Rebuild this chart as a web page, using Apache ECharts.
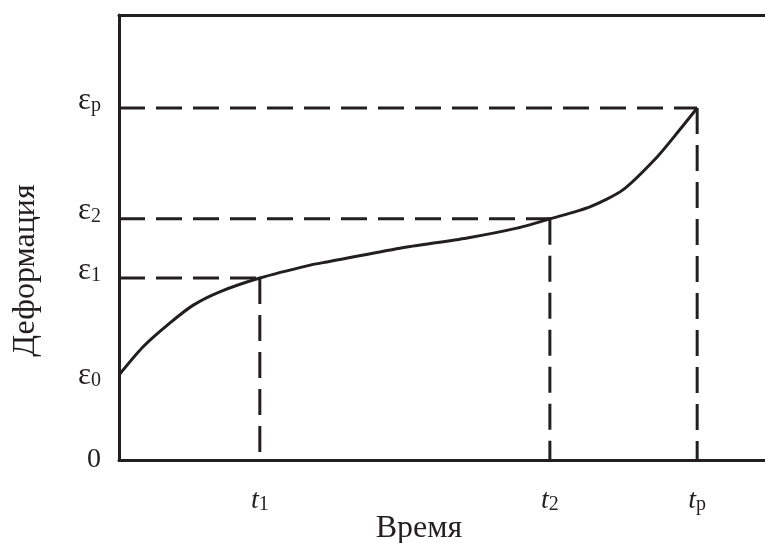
<!DOCTYPE html>
<html>
<head>
<meta charset="utf-8">
<script src="https://cdn.jsdelivr.net/npm/echarts@6/dist/echarts.min.js"></script>
<style>
  html, body { margin: 0; padding: 0; background: #ffffff; }
  #chart { width: 765px; height: 543px; }
</style>
</head>
<body>
<div id="chart"></div>
<script>
// Creep curve: strain against time, with the characteristic points marked
const timeMarks = [21.8, 66.7, 89.5];            // t1, t2, tp
const timeSubs = ['1', '2', 'p'];
const strainMarks = [0, 19.1, 40.9, 54.2, 79.1];  // 0, ε0, ε1, ε2, εp
const strainSubs = ['', '0', '1', '2', 'p'];
const guideStrain = [40.9, 54.2, 79.1];          // ε1, ε2, εp paired with t1, t2, tp

const curveTime   = [0, 3.7, 7.9, 11.5, 15.6, 21.8, 29.6, 32.2, 43.5, 53.9, 61.6, 66.7, 72.9, 78.0, 83.3, 86.8, 89.5];
const curveStrain = [19.1, 25.4, 30.8, 34.8, 37.8, 40.9, 43.8, 44.5, 47.6, 49.9, 52.1, 54.2, 56.9, 60.7, 68.1, 74.2, 79.1];

const INK = '#231f20';
const SERIF = '"Liberation Serif", "DejaVu Serif", serif';

const chart = echarts.init(document.getElementById('chart'), null, { renderer: 'canvas' });

const series = [{
  type: 'line',
  data: curveTime.map((t, i) => [t, curveStrain[i]]),
  smooth: 0.25,
  showSymbol: false,
  lineStyle: { color: INK, width: 3 },
  z: 3
}];

// dashed guides: horizontal from the strain axis, vertical down to the time axis
timeMarks.forEach((t, i) => {
  const e = guideStrain[i];
  const dash = { color: INK, width: 3, type: [26, 11] };
  series.push({ type: 'line', data: [[0, e], [t, e]], showSymbol: false, lineStyle: dash, z: 2 });
  series.push({ type: 'line', data: [[t, e], [t, 0]], showSymbol: false, lineStyle: dash, z: 2 });
});

const yLabelKey = v => strainMarks.indexOf(v);

const big = { fontFamily: SERIF, fontSize: 28, color: INK, verticalAlign: 'bottom', lineHeight: 30 };
const eps = { fontFamily: SERIF, fontSize: 31, color: INK, verticalAlign: 'bottom', lineHeight: 32 };
const sub = { fontFamily: SERIF, fontSize: 20, color: INK, verticalAlign: 'bottom', lineHeight: 14 };

chart.setOption({
  animation: false,
  backgroundColor: '#ffffff',
  grid: { left: 119, right: 0, top: 15, bottom: 83, containLabel: false, outerBoundsMode: 'none' },
  xAxis: [{
    type: 'value', min: 0, max: 100,
    name: 'Время', nameLocation: 'middle', nameGap: 53, nameMoveOverlap: false,
    nameTextStyle: { fontFamily: SERIF, fontSize: 32, color: INK, padding: [0, 46, 0, 0] },
    axisLine: { lineStyle: { color: INK, width: 3 } },
    axisTick: { show: false },
    splitLine: { show: false },
    axisLabel: {
      customValues: timeMarks,
      margin: 25,
      formatter: v => '{t|t}{s|' + timeSubs[timeMarks.indexOf(v)] + '}',
      rich: {
        t: Object.assign({}, big, { fontStyle: 'italic' }),
        s: sub
      }
    }
  }, {
    type: 'value', min: 0, max: 100, position: 'top',
    axisLine: { lineStyle: { color: INK, width: 3 } },
    axisTick: { show: false }, axisLabel: { show: false }, splitLine: { show: false }
  }],
  yAxis: {
    type: 'value', min: 0, max: 100,
    name: 'Деформация', nameLocation: 'middle', nameGap: 77, nameRotate: 90, nameMoveOverlap: false,
    nameTextStyle: { fontFamily: SERIF, fontSize: 32, color: INK, padding: [0, 66, 0, 0] },
    axisLine: { lineStyle: { color: INK, width: 3 } },
    axisTick: { show: false },
    splitLine: { show: false },
    axisLabel: {
      customValues: strainMarks,
      margin: 18,
      formatter: v => {
        const k = yLabelKey(v);
        if (k === 0) return '{z|0}';
        if (k === 1) return '{e0|ε}{s0|0}';
        return '{e|ε}{s|' + strainSubs[k] + '}';
      },
      rich: {
        z: { fontFamily: SERIF, fontSize: 28, color: INK, padding: [0, 0, 0, 0] },
        e: Object.assign({}, eps, { padding: [0, 0, 8, 0] }),
        s: Object.assign({}, sub, { padding: [0, 0, 8, 0] }),
        e0: eps,
        s0: sub
      }
    }
  },
  series
});
</script>
</body>
</html>
